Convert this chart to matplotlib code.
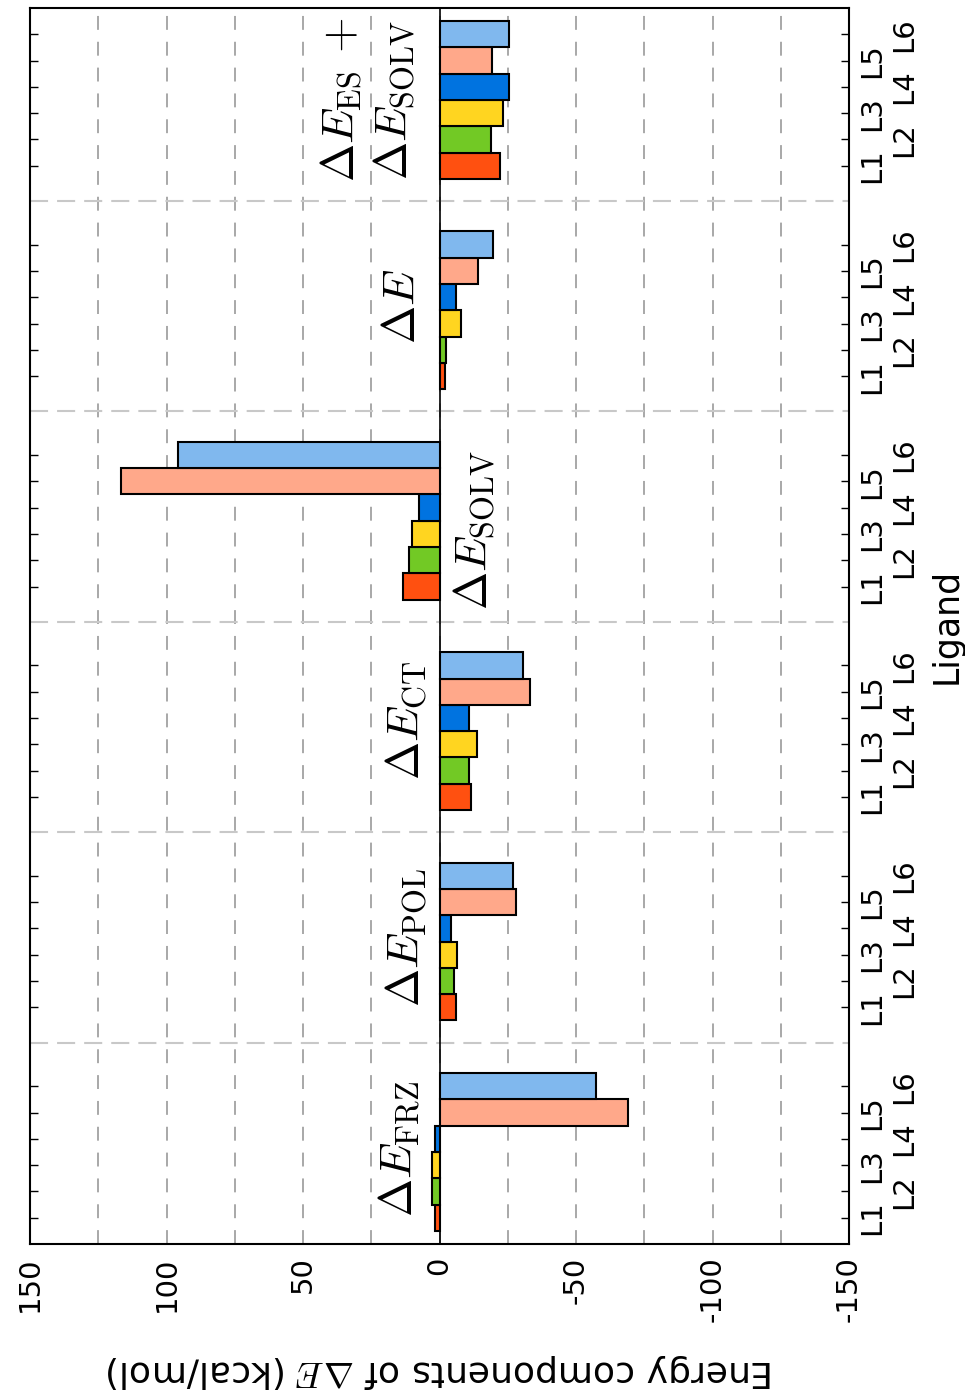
import numpy as np
import matplotlib
matplotlib.use("Agg")
import matplotlib.pyplot as plt
from matplotlib.ticker import MultipleLocator

plt.rcParams['mathtext.fontset'] = 'cm'
plt.rcParams['axes.unicode_minus'] = False
plt.rcParams['lines.scale_dashes'] = False

# energy components (kcal/mol), one value per ligand L1..L6
ligands = ['L1', 'L2', 'L3', 'L4', 'L5', 'L6']
frz = [1.8, 2.6, 2.6, 1.8, -69.2, -57.5]
pol = [-6.0, -5.3, -6.5, -4.3, -28.2, -27.0]
ct = [-11.4, -10.9, -13.8, -10.9, -33.1, -30.7]
solv = [13.2, 11.2, 9.9, 7.6, 116.6, 95.8]
de = [-2.1, -2.4, -7.7, -5.9, -14.2, -19.7]
es_solv = [-22.1, -19.0, -23.1, -25.5, -19.3, -25.3]

components = [frz, pol, ct, solv, de, es_solv]
comp_labels = [r'$\Delta E_{\mathrm{FRZ}}$', r'$\Delta E_{\mathrm{POL}}$',
               r'$\Delta E_{\mathrm{CT}}$', r'$\Delta E_{\mathrm{SOLV}}$',
               r'$\Delta E$', '$\\Delta E_{\\mathrm{ES}}$ $+$\n$\\Delta E_{\\mathrm{SOLV}}$']
# where each group label sits (value, offset inside group)
label_x = [14.6, 12.1, 12.1, -12.8, 13.5, 26.2]
label_off = [2.61, 2.65, 2.92, 2.15, 2.65, 2.5]

colors = ['#FF5010', '#72C925', '#FFD520', '#0073E0', '#FFA88A', '#80B8EE']

fig = plt.figure(figsize=(9.65, 13.94), dpi=100)
ax = fig.add_axes([0.0311, 0.1076, 0.8487, 0.8867])

step = 8
ticks = []
ticklabels = []
for g, vals in enumerate(components):
    pos = np.arange(len(vals)) + 1 + g * step
    ax.barh(pos, vals, height=1.0, color=colors, edgecolor='black',
            linewidth=1.5, zorder=3)
    ticks += list(pos)
    ticklabels += ligands
    ax.text(label_x[g], g * step + 1 + label_off[g], comp_labels[g],
            rotation=90, ha='center', va='center', fontsize=33,
            linespacing=1.2, zorder=4)
    if g > 0:
        ax.axhline(g * step - 0.34, color='#c8c8c8', lw=1.5,
                   linestyle=(0, (13, 6.5)), zorder=1)

ax.axvline(0, color='black', lw=1.2, zorder=4)

ax.set_xlim(150, -150)
ax.set_ylim(0, 47)
ax.xaxis.set_major_locator(MultipleLocator(50))
ax.xaxis.set_minor_locator(MultipleLocator(25))
ax.grid(axis='x', which='both', color='#999999', lw=1.2,
        linestyle=(0, (10, 8.6)), zorder=1)
ax.set_axisbelow(True)

ax.set_yticks(ticks)
ax.set_yticklabels(ticklabels, rotation=90, va='center', ha='left',
                   fontsize=21)
ax.tick_params(axis='y', left=True, right=True, labelleft=False,
               labelright=True, direction='in', length=6, width=1, pad=6.5)
# every second ligand label goes one row further out
for i, tk in enumerate(ax.yaxis.get_major_ticks()):
    if i % 2 == 1:
        tk.set_pad(29.5)
ax.tick_params(axis='x', which='both', direction='in', top=True,
               bottom=True, length=0, pad=9, labelsize=21, labelrotation=90)
for lab in ax.get_xticklabels():
    lab.set_va('top')

for sp in ax.spines.values():
    sp.set_linewidth(1.5)

fig.text(947 / 965, 1 - 626 / 1394, 'Ligand', rotation=90, ha='center',
         va='center', fontsize=25)
fig.text(440 / 965, 1 - 1371 / 1394,
         r'Energy components of $\Delta E$ (kcal/mol)', rotation=180,
         ha='center', va='center', fontsize=26)

fig.savefig('out.png', dpi=100)
